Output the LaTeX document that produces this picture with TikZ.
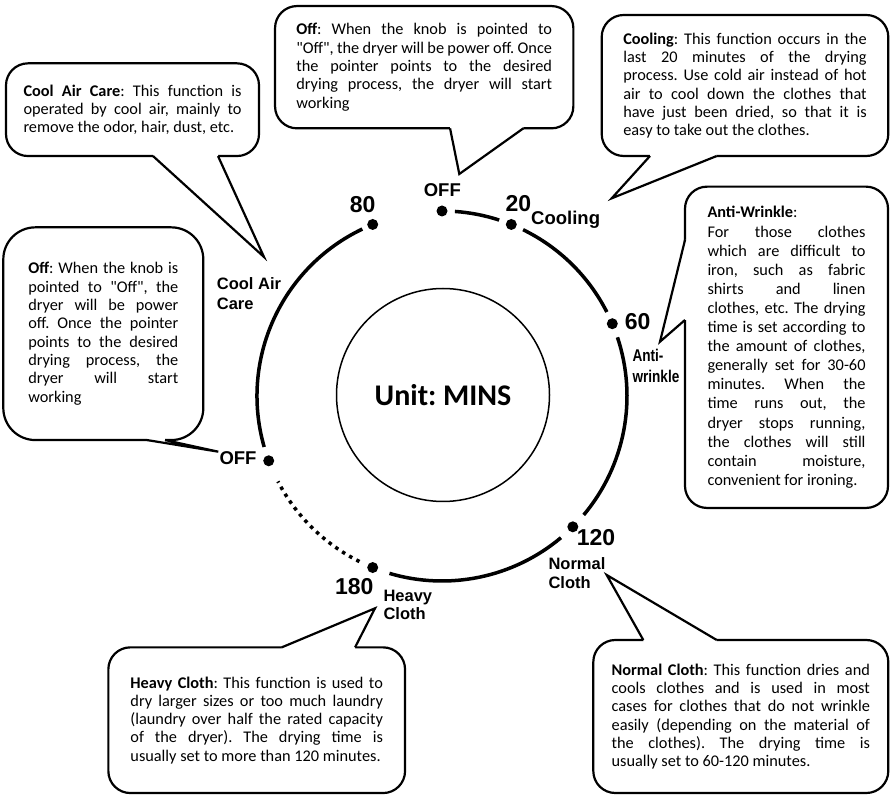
\documentclass[tikz,border=0pt]{standalone}
\usepackage{fontspec}
\setmainfont{Carlito}[Ligatures=TeXOff]
\newfontfamily\dialfont{Liberation Sans}
\newfontfamily\narrowfont{Liberation Sans}[FakeStretch=0.8]
\usetikzlibrary{calc}
\tolerance=9999
\hbadness=10000
\frenchspacing

\begin{document}
\begin{tikzpicture}[
    x=1pt, y=1pt,
    bubble/.style={draw, fill=white, line width=2.2, rounded corners=22, outer sep=0, inner sep=0, align=justify, font=\fontsize{16.3}{18.3}\selectfont},
    tail/.style={line width=2.2, line join=miter},
    ring/.style={line width=3.5},
    dot/.style={circle, fill, inner sep=0, minimum size=11},
    num/.style={inner sep=0, anchor=base, font=\dialfont\bfseries\fontsize{23}{23}\selectfont},
    lab/.style={inner sep=0, align=left, font=\dialfont\bfseries\fontsize{16.5}{19.5}\selectfont},
    biglab/.style={inner sep=0, font=\dialfont\bfseries\fontsize{18.5}{18.5}\selectfont}
  ]
  \useasboundingbox (0,0) rectangle (890,795);

  \node[bubble, minimum width=253, minimum height=92.7, text width=218] (coolbox) at (132.5,685.3)
    {\textbf{Cool Air Care}: This function is\linebreak operated by cool air, mainly to\linebreak remove the odor, hair, dust, etc.};
  \node[bubble, minimum width=298.3, minimum height=122.3, text width=255.7] (offbox) at (424.2,727.8)
    {\textbf{Off}: When the knob is pointed to\linebreak "Off", the dryer will be power off. Once\linebreak the pointer points to the desired\linebreak drying process, the dryer will start\linebreak working};
  \node[bubble, minimum width=286.6, minimum height=141, text width=243.4] (coolingbox) at (745,709.5)
    {\textbf{Cooling}: This function occurs in the\linebreak last 20 minutes of the drying\linebreak process. Use cold air instead of hot\linebreak air to cool down the clothes that\linebreak have just been dried, so that it is\linebreak easy to take out the clothes.};
  \node[bubble, minimum width=203, minimum height=321.3, text width=158, font=\fontsize{16.3}{19.1}\selectfont] (antibox) at (786.5,447.7)
    {\textbf{Anti-Wrinkle}:\\ For those clothes\linebreak which are difficult to\linebreak iron, such as fabric\linebreak shirts and linen\linebreak clothes, etc. The drying\linebreak time is set according to\linebreak the amount of clothes,\linebreak generally set for 30-60\linebreak minutes. When the\linebreak time runs out, the\linebreak dryer stops running,\linebreak the clothes will still\linebreak contain moisture,\linebreak convenient for ironing.};
  \node[bubble, rounded corners=32, minimum width=200, minimum height=212.7, text width=150] (offlbox) at (103.3,461.3)
    {\textbf{Off}: When the knob is\linebreak pointed to "Off", the\linebreak dryer will be power\linebreak off. Once the pointer\linebreak points to the desired\linebreak drying process, the\linebreak dryer will start\linebreak working};
  \node[bubble, minimum width=296.7, minimum height=145.7, text width=252.5] (heavybox) at (256.7,74.8)
    {\textbf{Heavy Cloth}: This function is used to\linebreak dry larger sizes or too much laundry\linebreak (laundry over half the rated capacity\linebreak of the dryer). The drying time is\linebreak usually set to more than 120 minutes.};
  \node[bubble, minimum width=295, minimum height=153, text width=258.3] (normalbox) at (740.8,78.5)
    {\textbf{Normal Cloth}: This function dries and\linebreak cools clothes and is used in most\linebreak cases for clothes that do not wrinkle\linebreak easily (depending on the material of\linebreak the clothes). The drying time is\linebreak usually set to 60-120 minutes.};

  \coordinate (cool-tip) at (264,538);
  \coordinate (off-tip) at (459.3,621);
  \coordinate (cooling-tip) at (611.7,596.7);
  \coordinate (anti-tip) at (660,453.3);
  \coordinate (offl-tip) at (218.3,343.3);
  \coordinate (heavy-tip) at (375,186.7);
  \coordinate (normal-tip) at (606.7,220);
  \path ([xshift=147]coolbox.south west) coordinate (cool-a) ([xshift=212]coolbox.south west) coordinate (cool-b)
        ([xshift=175]offbox.south west) coordinate (off-a) ([xshift=248.3]offbox.south west) coordinate (off-b)
        ([xshift=48.3]coolingbox.south west) coordinate (cooling-a) ([xshift=115]coolingbox.south west) coordinate (cooling-b)
        ([yshift=-53.3]antibox.north west) coordinate (anti-a) ([yshift=-133.3]antibox.north west) coordinate (anti-b)
        ([xshift=143.7]offlbox.south west) coordinate (offl-a) ([xshift=161.7]offlbox.south west) coordinate (offl-b)
        ([xshift=173.4]heavybox.north west) coordinate (heavy-a) ([xshift=246.7]heavybox.north west) coordinate (heavy-b)
        ([xshift=50]normalbox.north west) coordinate (normal-a) ([xshift=123.4]normalbox.north west) coordinate (normal-b);
  \foreach \n/\s in {cool/{0,3}, off/{0,3}, cooling/{0,3}, anti/{3,0}, offl/{0,3}, heavy/{0,-3}, normal/{0,-3}} {
    \fill[white] ($(\n-a)+(\s)$) -- (\n-a) -- (\n-tip) -- (\n-b) -- ($(\n-b)+(\s)$) -- cycle;
    \draw[tail] (\n-a) -- (\n-tip) -- (\n-b);
  }

  \coordinate (c) at (442,399);
  \node[circle, draw, line width=1.5, minimum size=213, font=\bfseries\fontsize{30}{30}\selectfont] (face) at (443,400) {Unit: MINS};
  \foreach \s/\e in {86/72, 64/27, 18.5/-40, -50/-106.5, 196/115.5}
    \draw[ring] (c) ++(\s:185) arc[start angle=\s, end angle=\e, radius=185];
  \draw[ring, dash pattern=on 3.5pt off 4.7pt] (c) ++(-116.5:185) arc[start angle=-116.5, end angle=-152.5, radius=185];
  \foreach \a/\n in {90/off, 68/t20, 23/t60, -45/t120, -112/t180, 200.5/offl, 112/t80}
    \node[dot] (dot-\n) at ($(c)+(\a:185)$) {};

  \node[num] (n80) at (362.7,582.3) {80};
  \node[biglab, anchor=base] (offtop) at (442.3,598.3) {OFF};
  \node[num] (n20) at (518.3,583.3) {20};
  \node[biglab, anchor=base west] (cooling) at (531,570.7) {Cooling};
  \node[num] (n60) at (637.7,465.7) {60};
  \node[lab, anchor=west, font=\narrowfont\bfseries\fontsize{17}{21.7}\selectfont] (antiwr) at (632.3,429.2) {Anti-\\wrinkle};
  \node[num] (n120) at (596,250) {120};
  \node[lab, anchor=west] (normal) at (548.3,221.7) {Normal\\Cloth};
  \node[num] (n180) at (354.3,201) {180};
  \node[lab, anchor=west, font=\dialfont\bfseries\fontsize{16.5}{18.5}\selectfont] (heavy) at (383.3,190) {Heavy\\Cloth};
  \node[lab, anchor=west] (coolair) at (216.7,501.2) {Cool Air\\Care};
  \node[biglab, anchor=base] (offleft) at (238,330) {OFF};
\end{tikzpicture}
\end{document}
